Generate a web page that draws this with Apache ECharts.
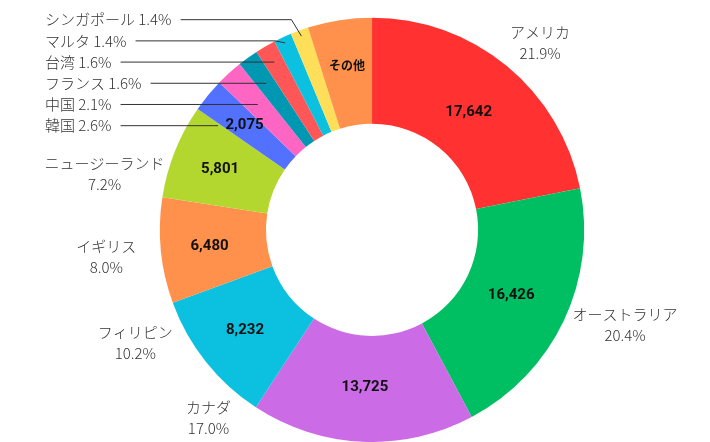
<!DOCTYPE html>
<html><head><meta charset="utf-8">
<script src="https://cdn.jsdelivr.net/npm/echarts@6/dist/echarts.min.js"></script>
<style>html,body{margin:0;padding:0;background:#fff}#chart{width:710px;height:442px}</style>
</head><body><div id="chart"></div>
<script>
// ---- data ----
const categories = ['アメリカ','オーストラリア','カナダ','フィリピン','イギリス','ニュージーランド','韓国','中国','フランス','台湾','マルタ','シンガポール','その他'];
const values = [17642, 16426, 13725, 8232, 6480, 5801, 2075, 1660, 1260, 1260, 1100, 1100, 3939];
const innerValueNames = ['アメリカ','オーストラリア','カナダ','フィリピン','イギリス','ニュージーランド','韓国'];
const smallLabelOrder = ['シンガポール','マルタ','台湾','フランス','中国','韓国'];
const otherName = 'その他';

// ---- styles ----
const sliceColors = ['#FF3131','#00BF63','#CB6CE6','#0CC0DF','#FF914D','#B4D730','#5271FF','#FF66C4','#0097B2','#FF5757','#0CC0DF','#FFDE59','#FF914D'];
// label centre: [distance as multiple of outer radius, clock angle in degrees]
const outerLabelSpot = {
  'アメリカ': [1.184, 42], 'オーストラリア': [1.274, 110.6], 'カナダ': [1.175, 221],
  'フィリピン': [1.236, 244.5], 'イギリス': [1.259, 264.2], 'ニュージーランド': [1.288, 281.8]
};

const total = values.reduce((a, b) => a + b, 0);
const pct = v => (v / total * 100).toFixed(1);
const CJK = '"Noto Sans CJK JP", "Noto Sans", sans-serif';

const chart = echarts.init(document.getElementById('chart'));

function layoutOf(idx) {
  return chart.getModel().getSeriesByIndex(0).getData().getItemLayout(idx);
}

const base = {
  type: 'pie', center: ['52.4%', '52%'], radius: ['48%', '96%'],
  startAngle: 90, clockwise: true, avoidLabelOverlap: false,
  emphasis: { disabled: true }, animation: false
};

const sliceData = categories.map((n, i) => ({ name: n, value: values[i], itemStyle: { color: sliceColors[i] } }));
const ghost = { color: 'rgba(0,0,0,0)' };

const outerData = categories.map((n, i) => ({
  name: n, value: values[i], itemStyle: ghost,
  label: { show: n !== otherName },
  labelLine: { show: smallLabelOrder.includes(n) }
}));

const innerData = categories.map((n, i) => ({
  name: n, value: values[i], itemStyle: ghost,
  label: { show: innerValueNames.includes(n) || n === otherName,
           fontSize: n === otherName ? 12 : 15 }
}));

chart.setOption({
  backgroundColor: '#fff',
  series: [
    Object.assign({}, base, { z: 2, data: sliceData, label: { show: false }, labelLine: { show: false } }),
    Object.assign({}, base, {
      z: 3, silent: true, data: outerData,
      label: {
        position: 'outside', color: '#333', fontFamily: CJK, fontSize: 15, fontWeight: 300, lineHeight: 21,
        formatter: p => smallLabelOrder.includes(p.name)
          ? p.name + ' ' + pct(p.value) + '%'
          : p.name + '\n' + pct(p.value) + '%'
      },
      labelLine: { lineStyle: { color: '#333', width: 1 }, length: 5, length2: 5 },
      labelLayout: function (p) {
        const lay = layoutOf(p.dataIndex);
        const name = categories[p.dataIndex];
        const mid = (lay.startAngle + lay.endAngle) / 2;
        const k = smallLabelOrder.indexOf(name);
        if (k >= 0) {
          const y = lay.cy - lay.r + 2 + k * 21.2;
          const x = 45;
          const right = x + p.labelRect.width + 9;
          let rr = (y - lay.cy) / Math.sin(mid);
          let end, bend;
          if (rr > lay.r - 5) {
            rr = lay.r - 6;
            end = [lay.cx + rr * Math.cos(mid), lay.cy + rr * Math.sin(mid)];
            bend = [end[0] - 10, y];
          } else {
            let ex = lay.cx + rr * Math.cos(mid);
            if (innerValueNames.includes(name)) {
              ex = lay.cx + (lay.r + lay.r0) / 2 * Math.cos(mid) - 31;
            }
            end = [ex, y];
            bend = [ex, y];
          }
          return { x: x, y: y, align: 'left', verticalAlign: 'middle', labelLinePoints: [end, bend, [right, y]] };
        }
        const spot = outerLabelSpot[name];
        if (!spot) return {};
        const a = (spot[1] - 90) * Math.PI / 180;
        return { x: lay.cx + spot[0] * lay.r * Math.cos(a), y: lay.cy + spot[0] * lay.r * Math.sin(a),
                 align: 'center', verticalAlign: 'middle' };
      }
    }),
    Object.assign({}, base, {
      z: 4, silent: true, data: innerData,
      label: {
        position: 'inside', color: '#111', fontWeight: 'bold',
        fontFamily: 'Roboto, "Noto Sans CJK JP", sans-serif',
        formatter: p => p.name === otherName ? p.name : p.value.toLocaleString('en-US')
      },
      labelLine: { show: false },
      labelLayout: function (p) {
        // place value labels at the centroid of the ring sector
        const lay = layoutOf(p.dataIndex);
        const mid = (lay.startAngle + lay.endAngle) / 2;
        const half = Math.max((lay.endAngle - lay.startAngle) / 2, 1e-6);
        const r = lay.r, r0 = lay.r0;
        const rc = (2 / 3) * (r * r * r - r0 * r0 * r0) / (r * r - r0 * r0) * Math.sin(half) / half;
        return { x: lay.cx + rc * Math.cos(mid), y: lay.cy + rc * Math.sin(mid), align: 'center', verticalAlign: 'middle' };
      }
    })
  ]
});
</script>
</body></html>
